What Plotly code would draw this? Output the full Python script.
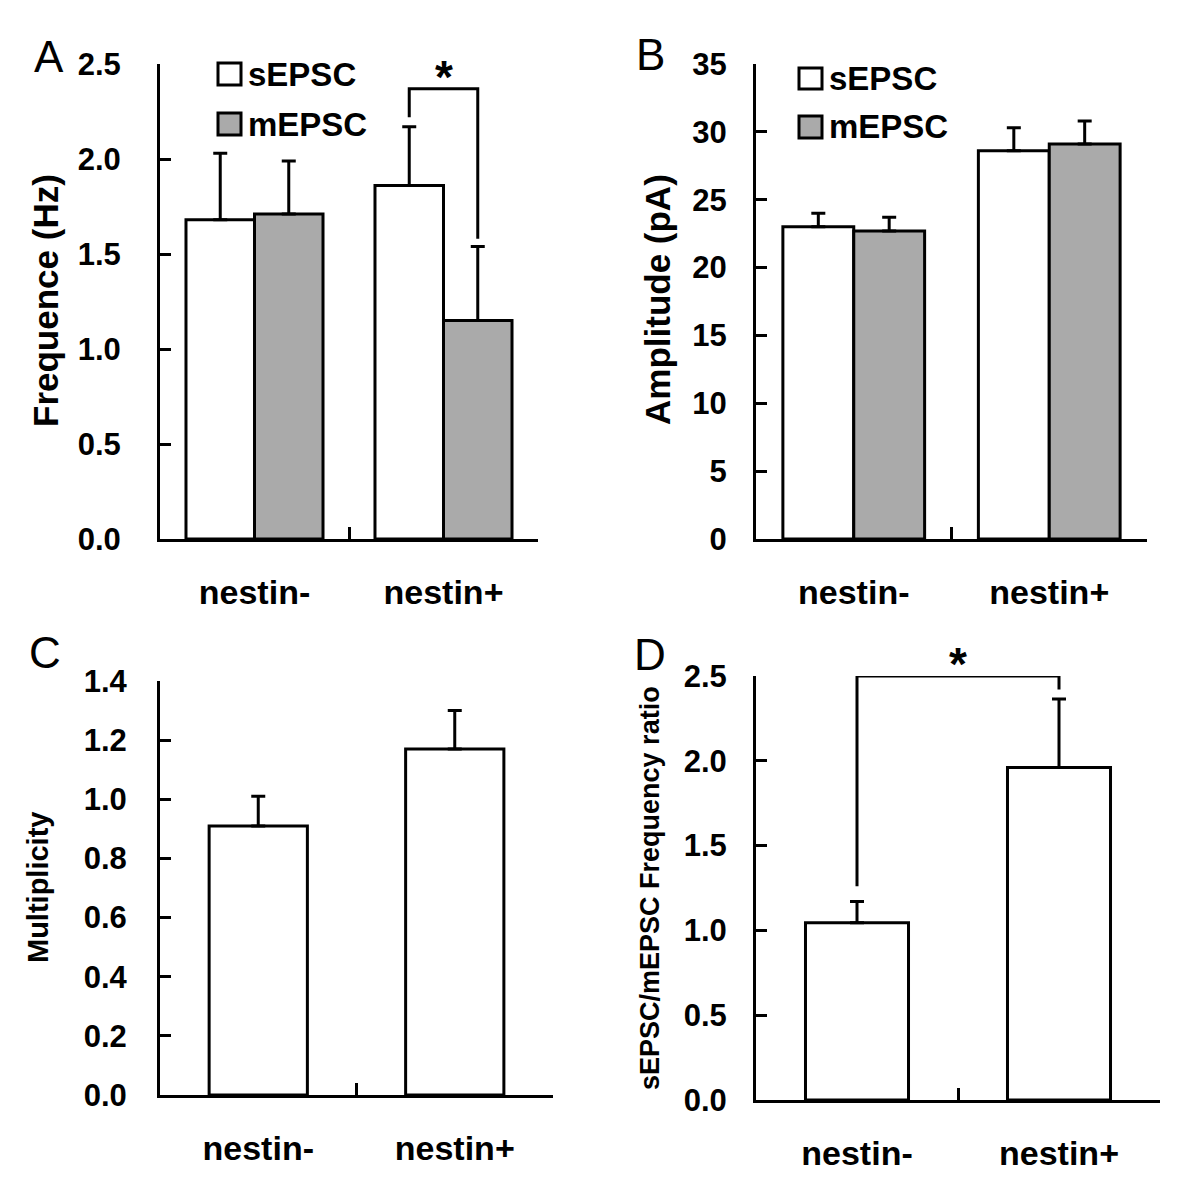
import plotly.graph_objects as go

# ---------------- data ----------------
categories = ["nestin-", "nestin+"]

# Panel A: frequency (Hz)
freq_sepsc = [1.68, 1.86]
freq_sepsc_err = [0.35, 0.31]
freq_mepsc = [1.71, 1.15]
freq_mepsc_err = [0.28, 0.39]

# Panel B: amplitude (pA)
amp_sepsc = [23.0, 28.6]
amp_sepsc_err = [1.0, 1.7]
amp_mepsc = [22.7, 29.1]
amp_mepsc_err = [1.0, 1.7]

# Panel C: multiplicity
multiplicity = [0.91, 1.17]
multiplicity_err = [0.10, 0.13]

# Panel D: sEPSC/mEPSC frequency ratio
ratio = [1.045, 1.96]
ratio_err = [0.125, 0.405]

# significance brackets (data units): [left leg bottom, top, right leg bottom]
bracket_a = [2.22, 2.37, 1.58]
bracket_d = [1.26, 2.50, 2.42]

y_ticks_a = [0.0, 0.5, 1.0, 1.5, 2.0, 2.5]
y_ticks_b = [0, 5, 10, 15, 20, 25, 30, 35]
y_ticks_c = [0.0, 0.2, 0.4, 0.6, 0.8, 1.0, 1.2, 1.4]
y_ticks_d = [0.0, 0.5, 1.0, 1.5, 2.0, 2.5]

# ---------------- styling ----------------
FONT = "Liberation Sans, Arial, Helvetica, sans-serif"
GRAY = "#aaaaaa"
BARGAP = 0.275
LW = 3
OFF = 8  # page body margin compensation (px)

fig = go.Figure()

def err(vals):
    return dict(type="data", symmetric=False, array=vals, arrayminus=[0] * len(vals),
                color="black", thickness=LW, width=7)

def bar(y, e, fill, xa, ya, width=None):
    return go.Bar(x=categories, y=y, error_y=err(e), width=width,
                  marker=dict(color=fill, line=dict(color="black", width=LW)),
                  xaxis=xa, yaxis=ya, showlegend=False)

fig.add_trace(bar(freq_sepsc, freq_sepsc_err, "white", "x", "y"))
fig.add_trace(bar(freq_mepsc, freq_mepsc_err, GRAY, "x", "y"))
fig.add_trace(bar(amp_sepsc, amp_sepsc_err, "white", "x2", "y2"))
fig.add_trace(bar(amp_mepsc, amp_mepsc_err, GRAY, "x2", "y2"))
fig.add_trace(bar(multiplicity, multiplicity_err, "white", "x3", "y3", width=0.5))
fig.add_trace(bar(ratio, ratio_err, "white", "x4", "y4", width=0.51))

def px(v):
    return (v - OFF) / 1200.0

def py(v):
    return 1 - (v - OFF) / 1200.0

def xaxis(domain, anchor):
    return dict(domain=domain, anchor=anchor, range=[-0.5, 1.5], type="category",
                automargin=False,
                showline=True, linecolor="black", linewidth=LW,
                ticks="inside", tickson="boundaries", ticklen=12, tickwidth=LW,
                tickcolor="black", showgrid=False, zeroline=False,
                ticklabelstandoff=21,
                tickfont=dict(family=FONT, size=34, color="black", weight="bold"))

def yaxis(domain, anchor, rng, ticks, fmt, standoff):
    return dict(domain=domain, anchor=anchor, range=rng, tickvals=ticks,
                ticktext=[fmt.format(t) for t in ticks], automargin=False,
                showline=True, linecolor="black", linewidth=LW,
                ticks="inside", ticklen=11, tickwidth=LW, tickcolor="black",
                showgrid=False, zeroline=False, ticklabelstandoff=standoff,
                tickfont=dict(family=FONT, size=31, color="black", weight="bold"))

dom_ax = [px(160), px(538)]
dom_bx = [px(756), px(1147)]
dom_cx = [px(160), px(553)]
dom_dx = [px(756), px(1160)]
dom_aby = [py(539), py(64)]
dom_cy = [py(1095), py(681)]
dom_dy = [py(1100), py(676)]

fig.update_layout(
    template="none",
    width=1200, height=1200, margin=dict(l=0, r=0, t=0, b=0, pad=0, autoexpand=False),
    paper_bgcolor="white", plot_bgcolor="white",
    barmode="group", bargap=BARGAP, bargroupgap=0,
    showlegend=False,
    xaxis=xaxis(dom_ax, "y"),
    yaxis=yaxis(dom_aby, "x", [0, 2.5], y_ticks_a, "{:.1f}", 30),
    xaxis2=xaxis(dom_bx, "y2"),
    yaxis2=yaxis(dom_aby, "x2", [0, 35], y_ticks_b, "{:d}", 20),
    xaxis3=xaxis(dom_cx, "y3"),
    yaxis3=yaxis(dom_cy, "x3", [0, 1.4], y_ticks_c, "{:.1f}", 24),
    xaxis4=xaxis(dom_dx, "y4"),
    yaxis4=yaxis(dom_dy, "x4", [0, 2.5], y_ticks_d, "{:.1f}", 20),
)

annotations = []
shapes = []

# panel letters
for letter, x, y in [("A", 49, 57), ("B", 650, 54), ("C", 45, 652), ("D", 650, 654)]:
    annotations.append(dict(text=letter, x=px(x), y=py(y), xref="paper", yref="paper",
                            showarrow=False, xanchor="center", yanchor="middle",
                            font=dict(family=FONT, size=44, color="black")))

# y-axis titles
for title, x, y, size in [("Frequence (Hz)", 45, 301, 35), ("Amplitude (pA)", 657, 300, 35),
                          ("Multiplicity", 38, 888, 29), ("sEPSC/mEPSC Frequency ratio", 650, 888, 27)]:
    annotations.append(dict(text=title, x=px(x), y=py(y), xref="paper", yref="paper",
                            showarrow=False, textangle=-90, xanchor="center", yanchor="middle",
                            font=dict(family=FONT, size=size, color="black", weight="bold")))

# legends (boxes + labels) for panels A and B
for (x0, x1, y0, y1, fill, label) in [
    (218, 241, 63, 85, "white", "sEPSC"), (218, 241, 113, 135, GRAY, "mEPSC"),
    (799, 822, 68, 89, "white", "sEPSC"), (799, 822, 116, 138, GRAY, "mEPSC")]:
    shapes.append(dict(type="rect", xref="paper", yref="paper",
                       x0=px(x0), x1=px(x1), y0=py(y1), y1=py(y0),
                       fillcolor=fill, line=dict(color="black", width=LW)))
    annotations.append(dict(text=label, x=px(x1 + 5), y=py((y0 + y1) / 2), xref="paper", yref="paper",
                            showarrow=False, xanchor="left", yanchor="middle",
                            font=dict(family=FONT, size=33, color="black", weight="bold")))

# significance bracket, panel A (between nestin+ sEPSC and mEPSC bars)
half = (1 - BARGAP) / 4
xl, xr = 1 - half, 1 + half
shapes.append(dict(type="path", xref="x", yref="y",
                   path=f"M {xl},{bracket_a[0]} L {xl},{bracket_a[1]} L {xr},{bracket_a[1]} L {xr},{bracket_a[2]}",
                   line=dict(color="black", width=3)))
annotations.append(dict(text="*", x=1, y=bracket_a[1], xref="x", yref="y", showarrow=False,
                        xanchor="center", yanchor="bottom", yshift=-16,
                        font=dict(family=FONT, size=46, color="black", weight="bold")))

# significance bracket, panel D (between the two bars)
shapes.append(dict(type="path", xref="x4", yref="y4",
                   path=f"M 0,{bracket_d[0]} L 0,{bracket_d[1]} L 1,{bracket_d[1]} L 1,{bracket_d[2]}",
                   line=dict(color="black", width=3)))
annotations.append(dict(text="*", x=0.5, y=bracket_d[1], xref="x4", yref="y4", showarrow=False,
                        xanchor="center", yanchor="bottom", yshift=-16,
                        font=dict(family=FONT, size=46, color="black", weight="bold")))

fig.update_layout(annotations=annotations, shapes=shapes)
fig.write_html("out.html")
